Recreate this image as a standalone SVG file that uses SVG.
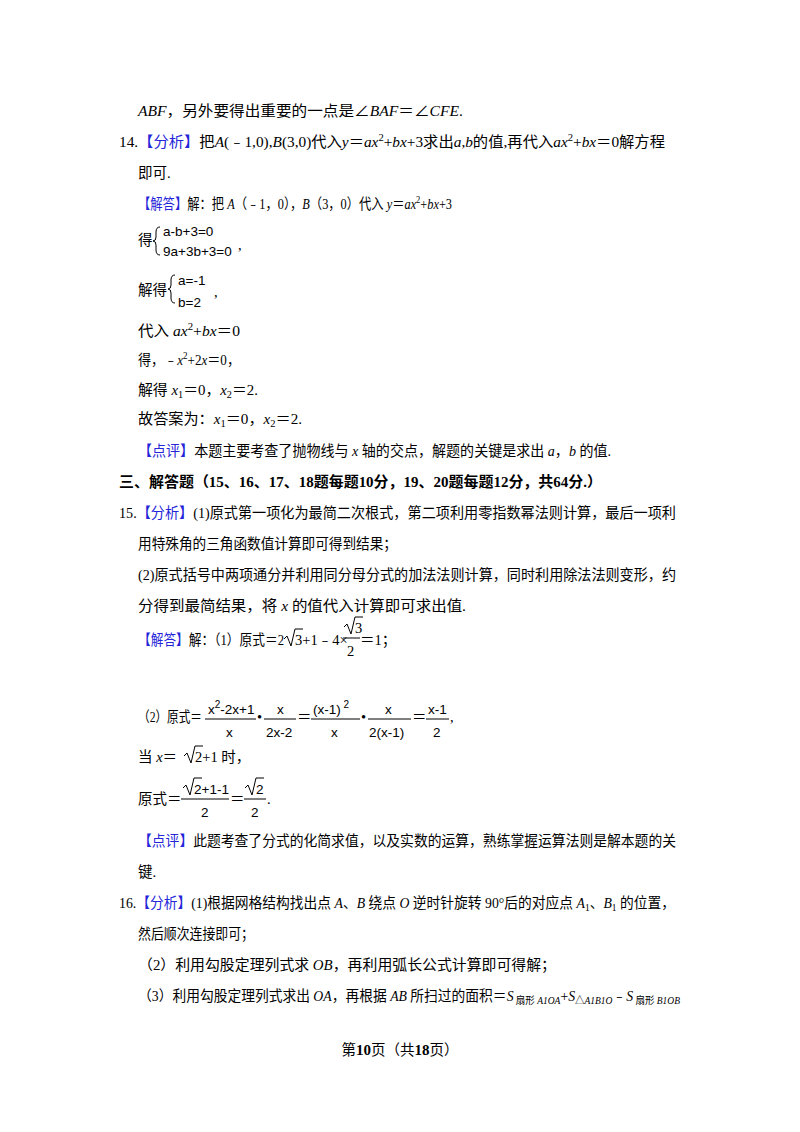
<svg xmlns="http://www.w3.org/2000/svg" width="800" height="1132" viewBox="0 0 800 1132">
<style>
text{font-family:"Liberation Serif","Noto Sans CJK SC",serif;font-size:14.5px;fill:#000}
.b{fill:#2424d8}
.i{font-style:italic}
.m{font-family:"Liberation Sans","Noto Sans CJK SC",sans-serif;font-size:13.5px}
.s{font-size:10px}
.h{font-weight:bold}
line{stroke:#000;stroke-width:1}
path{fill:none;stroke:#000;stroke-width:1}
</style>
<rect width="800" height="1132" fill="#fff"/>
<text x="138" y="116" textLength="325" lengthAdjust="spacingAndGlyphs"><tspan class="i">ABF</tspan>，另外要得出重要的一点是∠<tspan class="i">BAF</tspan>＝∠<tspan class="i">CFE</tspan>.</text>
<text x="119" y="147" textLength="546" lengthAdjust="spacingAndGlyphs">14.<tspan class="b">【分析】</tspan>把<tspan class="i">A</tspan>(﹣1,0),<tspan class="i">B</tspan>(3,0)代入<tspan class="i">y</tspan>＝<tspan class="i">ax</tspan><tspan class="s" dy="-6">2</tspan><tspan dy="6">+</tspan><tspan class="i">bx</tspan>+3求出<tspan class="i">a</tspan>,<tspan class="i">b</tspan>的值,再代入<tspan class="i">ax</tspan><tspan class="s" dy="-6">2</tspan><tspan dy="6">+</tspan><tspan class="i">bx</tspan>＝0解方程</text>
<text x="138" y="178">即可.</text>
<text x="138" y="209" textLength="314" lengthAdjust="spacingAndGlyphs"><tspan class="b">【解答】</tspan>解：把 <tspan class="i">A</tspan>（﹣1，0），<tspan class="i">B</tspan>（3，0）代入 <tspan class="i">y</tspan>＝<tspan class="i">ax</tspan><tspan class="s" dy="-6">2</tspan><tspan dy="6">+</tspan><tspan class="i">bx</tspan>+3</text>
<text x="138" y="245">得</text>
<path d="M160 227 q-4 0 -4 5 v5 q0 4 -3 4 q3 0 3 4 v5 q0 5 4 5"/>
<text class="m" x="163" y="236">a-b+3=0</text>
<text class="m" x="163" y="256">9a+3b+3=0</text>
<text x="238" y="250">,</text>
<text x="138" y="295">解得</text>
<path d="M175 275 q-4 0 -4 5 v5 q0 4 -3 4 q3 0 3 4 v5 q0 5 4 5"/>
<text class="m" x="178" y="285">a=-1</text>
<text class="m" x="178" y="307">b=2</text>
<text x="214" y="297">,</text>
<text x="138" y="336" textLength="102" lengthAdjust="spacingAndGlyphs">代入 <tspan class="i">ax</tspan><tspan class="s" dy="-6">2</tspan><tspan dy="6">+</tspan><tspan class="i">bx</tspan>＝0</text>
<text x="138" y="365" textLength="102" lengthAdjust="spacingAndGlyphs">得，﹣<tspan class="i">x</tspan><tspan class="s" dy="-6">2</tspan><tspan dy="6">+2</tspan><tspan class="i">x</tspan>＝0，</text>
<text x="138" y="395" textLength="120" lengthAdjust="spacingAndGlyphs">解得 <tspan class="i">x</tspan><tspan class="s" dy="3">1</tspan><tspan dy="-3">＝0，</tspan><tspan class="i">x</tspan><tspan class="s" dy="3">2</tspan><tspan dy="-3">＝2.</tspan></text>
<text x="138" y="424" textLength="164" lengthAdjust="spacingAndGlyphs">故答案为：<tspan class="i">x</tspan><tspan class="s" dy="3">1</tspan><tspan dy="-3">＝0，</tspan><tspan class="i">x</tspan><tspan class="s" dy="3">2</tspan><tspan dy="-3">＝2.</tspan></text>
<text x="138" y="456" textLength="473" lengthAdjust="spacingAndGlyphs"><tspan class="b">【点评】</tspan>本题主要考查了抛物线与 <tspan class="i">x</tspan> 轴的交点，解题的关键是求出 <tspan class="i">a</tspan>，<tspan class="i">b</tspan> 的值.</text>
<text class="h" x="119" y="487" textLength="483" lengthAdjust="spacingAndGlyphs">三、解答题（15、16、17、18题每题10分，19、20题每题12分，共64分.）</text>
<text x="119" y="518" textLength="557" lengthAdjust="spacingAndGlyphs">15.<tspan class="b">【分析】</tspan>(1)原式第一项化为最简二次根式，第二项利用零指数幂法则计算，最后一项利</text>
<text x="138" y="549" textLength="259" lengthAdjust="spacingAndGlyphs">用特殊角的三角函数值计算即可得到结果；</text>
<text x="138" y="580" textLength="538" lengthAdjust="spacingAndGlyphs">(2)原式括号中两项通分并利用同分母分式的加法法则计算，同时利用除法法则变形，约</text>
<text x="138" y="611" textLength="328" lengthAdjust="spacingAndGlyphs">分得到最简结果，将 <tspan class="i">x</tspan> 的值代入计算即可求出值.</text>
<text x="138" y="645" textLength="146" lengthAdjust="spacingAndGlyphs"><tspan class="b">【解答】</tspan>解：（1）原式＝2</text>
<path d="M284 639 l3 -3 l4 10 l4 -17 h8"/>
<text x="295" y="645">3+1﹣4×</text>
<path d="M344 627 l3 -3 l4 10 l4 -17 h8"/>
<text x="355" y="633">3</text>
<line x1="343" y1="638" x2="360" y2="638"/>
<text x="347" y="656">2</text>
<text x="360" y="645">＝1；</text>
<text x="138" y="722" textLength="64" lengthAdjust="spacingAndGlyphs">（2）原式＝</text>
<text class="m" x="208" y="714">x<tspan dy="-6" font-size="10">2</tspan><tspan dy="6">-2x+1</tspan></text>
<line x1="205" y1="719" x2="256" y2="719"/>
<text class="m" x="226" y="737">x</text>
<text x="257" y="722">•</text>
<text class="m" x="277" y="714">x</text>
<line x1="264" y1="719" x2="296" y2="719"/>
<text class="m" x="266" y="737">2x-2</text>
<text x="297" y="722">＝</text>
<text class="m" x="313" y="714">(x-1)<tspan dy="-6" font-size="10"> 2</tspan></text>
<line x1="311" y1="719" x2="360" y2="719"/>
<text class="m" x="331" y="737">x</text>
<text x="361" y="722">•</text>
<text class="m" x="385" y="714">x</text>
<line x1="368" y1="719" x2="411" y2="719"/>
<text class="m" x="369" y="737">2(x-1)</text>
<text x="412" y="722">＝</text>
<text class="m" x="428" y="714">x-1</text>
<line x1="426" y1="719" x2="449" y2="719"/>
<text class="m" x="433" y="737">2</text>
<text x="450" y="722">,</text>
<text x="138" y="762">当 <tspan class="i">x</tspan>＝</text>
<path d="M184 756 l3 -3 l4 10 l4 -17 h8"/>
<text x="195" y="762">2+1 时，</text>
<text x="138" y="804">原式＝</text>
<path d="M183 788 l3 -3 l4 10 l4 -17 h8"/>
<text class="m" x="194" y="794">2+1-1</text>
<line x1="181" y1="799" x2="229" y2="799"/>
<text class="m" x="201" y="817">2</text>
<text x="230" y="804">＝</text>
<path d="M245 788 l3 -3 l4 10 l4 -17 h8"/>
<text class="m" x="256" y="794">2</text>
<line x1="244" y1="799" x2="266" y2="799"/>
<text class="m" x="251" y="817">2</text>
<text x="267" y="804">.</text>
<text x="138" y="846" textLength="538" lengthAdjust="spacingAndGlyphs"><tspan class="b">【点评】</tspan>此题考查了分式的化简求值，以及实数的运算，熟练掌握运算法则是解本题的关</text>
<text x="138" y="877">键.</text>
<text x="119" y="908" textLength="556" lengthAdjust="spacingAndGlyphs">16.<tspan class="b">【分析】</tspan>(1)根据网格结构找出点 <tspan class="i">A</tspan>、<tspan class="i">B</tspan> 绕点 <tspan class="i">O</tspan> 逆时针旋转 90°后的对应点 <tspan class="i">A</tspan><tspan class="s" dy="3">1</tspan><tspan dy="-3">、</tspan><tspan class="i">B</tspan><tspan class="s" dy="3">1</tspan><tspan dy="-3"> 的位置，</tspan></text>
<text x="138" y="939" textLength="116" lengthAdjust="spacingAndGlyphs">然后顺次连接即可；</text>
<text x="138" y="970" textLength="418" lengthAdjust="spacingAndGlyphs">（2）利用勾股定理列式求 <tspan class="i">OB</tspan>，再利用弧长公式计算即可得解；</text>
<text x="138" y="1001" textLength="542" lengthAdjust="spacingAndGlyphs">（3）利用勾股定理列式求出 <tspan class="i">OA</tspan>，再根据 <tspan class="i">AB</tspan> 所扫过的面积＝<tspan class="i">S</tspan><tspan class="s" dy="3"> 扇形 </tspan><tspan class="s i">A1OA</tspan><tspan dy="-3">+</tspan><tspan class="i">S</tspan><tspan class="s" dy="3">△</tspan><tspan class="s i">A1B1O</tspan><tspan dy="-3">﹣</tspan><tspan class="i">S</tspan><tspan class="s" dy="3"> 扇形 </tspan><tspan class="s i">B1OB</tspan></text>
<text x="400" y="1055" text-anchor="middle" font-size="13">第<tspan class="h" font-size="15">10</tspan>页（共<tspan class="h" font-size="15">18</tspan>页）</text>
</svg>
